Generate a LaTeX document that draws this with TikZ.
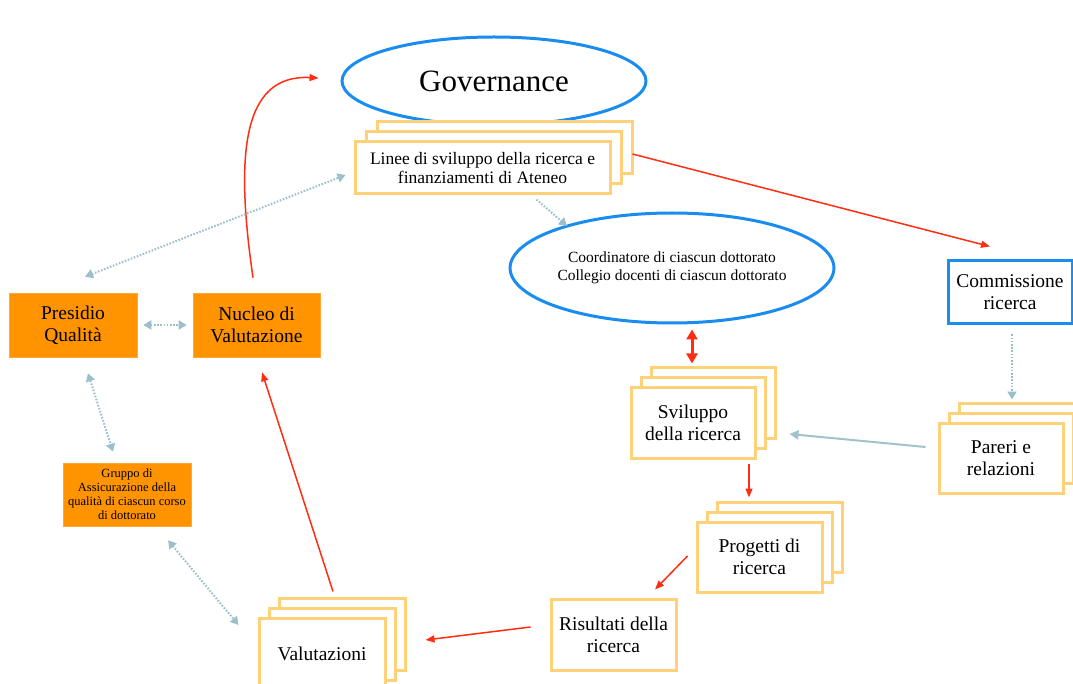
\documentclass[tikz,border=0pt]{standalone}
\usepackage{fontspec}
\setmainfont{Liberation Serif}
\usetikzlibrary{arrows.meta,calc,shapes.geometric}
\definecolor{qorange}{HTML}{FF9300}
\definecolor{qyellow}{HTML}{FFD27A}
\definecolor{qblue}{HTML}{1A8CF0}
\definecolor{qred}{HTML}{FF2D12}
\definecolor{qgray}{HTML}{9CC0CA}
\definecolor{qgraysolid}{HTML}{A2C2CB}
\tikzset{
  ybox/.style={draw=qyellow, line width=3pt, fill=white, inner sep=0pt, align=center},
  obox/.style={fill=qorange, draw=qorange!80!white, line width=0.6pt, inner sep=0pt, align=center},
  bbox/.style={draw=qblue, line width=3pt, fill=white, inner sep=0pt, align=center},
  bell/.style={ellipse, draw=qblue, line width=3pt, fill=white, inner sep=0pt, align=center},
  mainfont/.style={font=\fontsize{19.5}{22}\selectfont},
  lineefont/.style={font=\fontsize{17.5}{19.5}\selectfont},
  redarr/.style={draw=qred, line width=1.5pt, -{Triangle[length=9pt,width=7pt]}},
  redboth/.style={draw=qred, line width=3pt, {Triangle[length=10pt,width=11pt]}-{Triangle[length=10pt,width=11pt]}},
  dotarr/.style={draw=qgray, line width=2pt, dash pattern=on 1.6pt off 1.6pt, -{Triangle[length=8pt,width=9pt]}},
  dotboth/.style={draw=qgray, line width=2pt, dash pattern=on 1.6pt off 1.6pt, {Triangle[length=8pt,width=9pt]}-{Triangle[length=8pt,width=9pt]}},
  solarr/.style={draw=qgraysolid, line width=2pt, -{Triangle[length=9pt,width=9pt]}}
}
% name, x, y, w, h, text, dx, dy, font style
\newcommand\stackbox[9]{%
  \node[ybox, minimum width=#4pt, minimum height=#5pt] (#1c) at (#2+2*#7,#3-2*#8) {};
  \node[ybox, minimum width=#4pt, minimum height=#5pt] (#1b) at (#2+#7,#3-#8) {};
  \node[ybox, #9, minimum width=#4pt, minimum height=#5pt] (#1) at (#2,#3) {#6};
}
\begin{document}
\begin{tikzpicture}[x=1pt,y=-1pt]
\useasboundingbox (0,0) rectangle (1073,684);
\clip (0,0) rectangle (1073,684);

% Governance
\node[bell, minimum width=304pt, minimum height=88pt, font=\fontsize{31}{34}\selectfont] (gov) at (494,81) {Governance};
\stackbox{linee}{482.5}{168}{255}{52}{Linee di sviluppo della ricerca e\\finanziamenti di Ateneo}{11}{10}{lineefont}

% Coordinatore
\node[bell, minimum width=270pt, minimum height=110pt, font=\fontsize{15.5}{18}\selectfont] (coord) at (672,268) {Coordinatore di ciascun dottorato\\Collegio docenti di ciascun dottorato};

% Commissione
\node[bbox, mainfont, minimum width=124pt, minimum height=63pt] (comm) at (1010,292.5) {Commissione\\ricerca};

% Orange boxes
\node[obox, mainfont, minimum width=128pt, minimum height=64pt] (pres) at (73,325) {Presidio\\Qualità};
\node[obox, mainfont, minimum width=127pt, minimum height=64pt] (nucleo) at (256.5,325) {Nucleo di\\Valutazione};
\node[obox, font=\fontsize{12.5}{14}\selectfont, minimum width=128pt, minimum height=63pt] (gruppo) at (127,494.5) {Gruppo di\\Assicurazione della\\qualità di ciascun corso\\di dottorato};

% Stacks
\stackbox{pareri}{1001}{458}{124}{70}{Pareri e\\relazioni}{10}{10}{mainfont}
\stackbox{svil}{693}{422.5}{124}{71}{Sviluppo\\della ricerca}{10}{10}{mainfont}
\stackbox{prog}{759.5}{557}{125}{70}{Progetti di\\ricerca}{10}{10}{mainfont}
\stackbox{valut}{322}{654}{126}{72}{Valutazioni}{10}{10}{mainfont}
\node[ybox, mainfont, minimum width=125pt, minimum height=71pt] (ris) at (613.5,634.5) {Risultati della\\ricerca};

% Connectors
\draw[redarr] ($(nucleo.north)+(-3.5,-15)$) .. controls (236,160) and (240,74) .. ($(gov.west)+(-22,-3)$);
\draw[redarr] ($(lineec.east)+(-1,6)$) -- ($(comm.north)+(-20,-13)$);
\draw[dotarr] ($(linee.south)+(54,4)$) -- ($(coord.center)+(-105,-42)$);
\draw[dotboth] ($(pres.north)+(12,-16)$) -- ($(linee.west)+(-8,7)$);
\draw[dotboth] ($(pres.east)+(6,0)$) -- ($(nucleo.west)+(-6,0)$);
\draw[dotboth] ($(pres.south)+(15,16)$) -- ($(gruppo.north)+(-14,-11)$);
\draw[dotboth] ($(gruppo.south)+(41,14)$) -- ($(valut.west)+(-19,-29)$);
\draw[dotarr] ($(comm.south)+(2,9)$) -- ($(comm.south)+(2,74)$);
\draw[solarr] ($(pareri.west)+(-12,-11)$) -- ($(svil.east)+(33,11.5)$);
\draw[redboth] ($(coord.south)+(20,5)$) -- ($(svil.north)+(-1,-22)$);
\draw[redarr] ($(svil.south)+(56,4)$) -- ($(prog.north)+(-10.5,-23)$);
\draw[redarr] ($(prog.west)+(-8,-1)$) -- ($(ris.north)+(41.5,-8)$);
\draw[redarr] ($(ris.west)+(-19,-7.5)$) -- ($(valut.east)+(39,-14)$);
\draw[redarr] ($(valut.north)+(11,-25)$) -- ($(nucleo.south)+(5.5,15)$);
\end{tikzpicture}
\end{document}
